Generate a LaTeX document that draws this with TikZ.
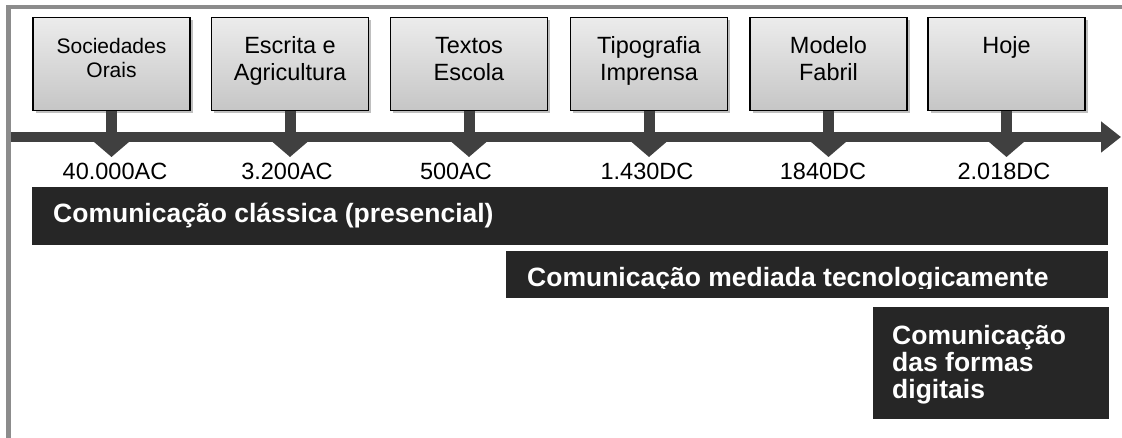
\documentclass[tikz,border=0pt]{standalone}
\usepackage{fontspec}
\setmainfont{Liberation Sans}
\usetikzlibrary{shadows,arrows.meta}
\definecolor{axisgray}{HTML}{404040}
\definecolor{bardark}{HTML}{262626}
\definecolor{framegray}{HTML}{8C8C8C}
\newcommand\evlab[1]{\parbox[c][93pt][t]{157pt}{\centering\rule{0pt}{35.5pt}#1}}
\begin{document}
\begin{tikzpicture}[x=1pt,y=-1pt,
  evbox/.style={draw=black, line width=1.3pt, top color=gray!15, bottom color=gray!45,
    inner sep=0pt, anchor=north, font=\fontsize{23.5}{27}\selectfont,
    drop shadow={shadow xshift=2.5pt, shadow yshift=-2.5pt, fill=black, opacity=0.25}},
  axisline/.style={draw=axisgray, line width=10pt, -{Triangle[width=30pt,length=20pt]}},
  stem/.style={draw=axisgray, line width=11pt, -{Triangle[width=34pt,length=15pt]}},
  year/.style={anchor=base, inner sep=0pt, font=\fontsize{23.5}{27}\selectfont},
  bar/.style={fill=bardark, text=white, inner ysep=0pt, anchor=north west,
    font=\bfseries\fontsize{26.5}{27}\selectfont},
  frame/.style={draw=framegray, line width=4.5pt}
]
\useasboundingbox (0,0) rectangle (1122,438);
\fill[white] (0,0) rectangle (1122,438);
% frame
\draw[frame] (8.5,445) -- (8.5,7) -- (1130,7);
% axis
\coordinate (axL) at (11,137);
\coordinate (axR) at (1121,137);
\draw[axisline] (axL) -- (axR);
% event boxes
\node[evbox] (s1) at (111.5,17) {\fontsize{21}{24}\selectfont\evlab{Sociedades\\Orais}};
\node[evbox] (s2) at (290,17) {\evlab{Escrita e\\Agricultura}};
\node[evbox] (s3) at (469,17) {\evlab{Textos\\Escola}};
\node[evbox] (s4) at (649,17) {\evlab{Tipografia\\Imprensa}};
\node[evbox] (s5) at (828.5,17) {\evlab{Modelo\\Fabril}};
\node[evbox] (s6) at (1006.5,17) {\evlab{Hoje}};
% pointer coordinates
\coordinate (p1) at (111.5,157);
\coordinate (p2) at (290,157);
\coordinate (p3) at (469,157);
\coordinate (p4) at (649,157);
\coordinate (p5) at (828.5,157);
\coordinate (p6) at (1006.5,157);
\foreach \i in {1,...,6} { \draw[stem] (s\i.south) -- (p\i); }
% years
\node[year] (y1) at (115,180) {40.000AC};
\node[year] (y2) at (287,180) {3.200AC};
\node[year] (y3) at (456,180) {500AC};
\node[year] (y4) at (647,180) {1.430DC};
\node[year] (y5) at (823,180) {1840DC};
\node[year] (y6) at (1004,180) {2.018DC};
% bars
\node[bar, inner xsep=21pt] (b1) at (32,187)
  {\parbox[c][58pt][t]{1034pt}{\raggedright\rule{0pt}{35pt}Comunicação clássica (presencial)}};
\node[bar, inner sep=0pt, minimum width=602pt, minimum height=47pt] (b2) at (506,251) {};
\begin{scope}
  \clip (b2.north west) rectangle ([yshift=9.5pt]b2.south east);
  \node[text=white, inner sep=0pt, anchor=base west, font=\bfseries\fontsize{26.5}{27}\selectfont] (b2t) at (527,287)
    {Comunicação mediada tecnologicamente};
\end{scope}
\node[bar, inner xsep=19pt] (b3) at (873,307)
  {\parbox[c][112pt][t]{198pt}{\raggedright\rule{0pt}{37pt}Comunicação\\das formas\\digitais}};
\end{tikzpicture}
\end{document}
